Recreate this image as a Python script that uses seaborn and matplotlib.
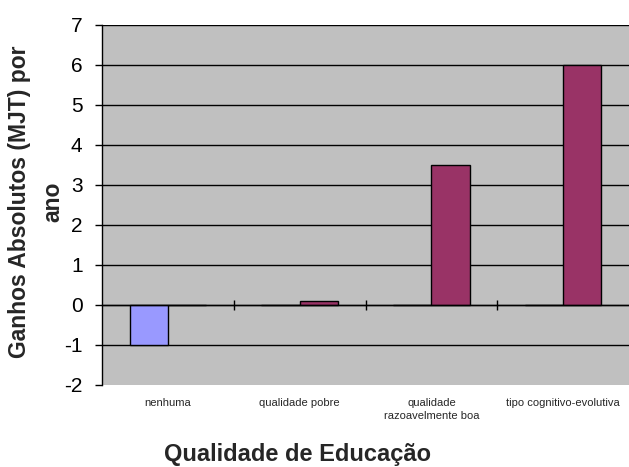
import matplotlib
matplotlib.use("Agg")
import matplotlib.pyplot as plt
import pandas as pd
import seaborn as sns

# Excel-style clustered columns: two series per category
categories = ["nenhuma", "qualidade pobre", "qualidade\nrazoavelmente boa",
              "tipo cognitivo-evolutiva"]
series_names = ["Série 1", "Série 2"]
serie1 = [-1.0, 0.0, 0.0, 0.0]
serie2 = [0.0, 0.1, 3.5, 6.0]
y_ticks = [-2, -1, 0, 1, 2, 3, 4, 5, 6, 7]

df = pd.DataFrame({
    "categoria": categories * 2,
    "serie": [series_names[0]] * 4 + [series_names[1]] * 4,
    "valor": serie1 + serie2,
})

sns.set_theme(style="white")
plt.rcParams["font.family"] = ["Liberation Sans", "DejaVu Sans"]
plt.rcParams["axes.unicode_minus"] = False

fig = plt.figure(figsize=(6.29, 4.67), dpi=100)
ax = fig.add_axes([102 / 629, 1 - 385 / 467, 527 / 629, 360 / 467])
ax.set_facecolor("#C0C0C0")

sns.barplot(
    data=df, x="categoria", y="valor", hue="serie", order=categories,
    palette=["#9999FF", "#993366"], saturation=1, width=0.58, gap=0,
    edgecolor="black", linewidth=1, ax=ax, legend=False,
)

ax.set_ylim(y_ticks[0], y_ticks[-1])
ax.set_xlim(-0.5, len(categories) - 0.5)
ax.set_yticks(y_ticks)
ax.tick_params(axis="y", direction="out", length=5, width=1, colors="black",
               labelsize=15, pad=9, left=True)

# horizontal gridlines (none at the bottom edge)
for t in y_ticks[1:]:
    ax.axhline(t, color="black", linewidth=1, zorder=0.5)

# category axis crosses at zero, tick marks between categories
ax.spines["bottom"].set_position(("data", 0))
ax.spines["bottom"].set_color("black")
ax.spines["bottom"].set_linewidth(1)
ax.spines["left"].set_color("black")
ax.spines["left"].set_linewidth(1)
ax.spines["top"].set_visible(False)
ax.spines["right"].set_visible(False)
ax.set_xticks(range(len(categories)))
ax.set_xticklabels([])
ax.tick_params(axis="x", which="major", length=0)
ax.set_xticks([i + 0.5 for i in range(len(categories) - 1)], minor=True)
ax.tick_params(axis="x", which="minor", direction="inout", length=7,
               width=1, color="black", bottom=True)
ax.set_xlabel("")
ax.set_ylabel("")

# category labels below the plot area
sec = ax.secondary_xaxis(0)
sec.set_xticks(range(len(categories)), labels=categories)
sec.tick_params(length=0, pad=9, labelsize=8)
sec.spines["bottom"].set_visible(False)
for lbl in sec.get_xticklabels():
    lbl.set_linespacing(1.4)

fig.text(298 / 629, 1 - 455 / 467, "Qualidade de Educação", ha="center",
         va="center", fontsize=17, fontweight="bold")
fig.text(36 / 629, 1 - 202 / 467, "Ganhos Absolutos (MJT) por\nano",
         rotation=90, ha="center", va="center", fontsize=16.5,
         fontweight="bold", linespacing=1.55)

fig.savefig("out.png", dpi=100)
